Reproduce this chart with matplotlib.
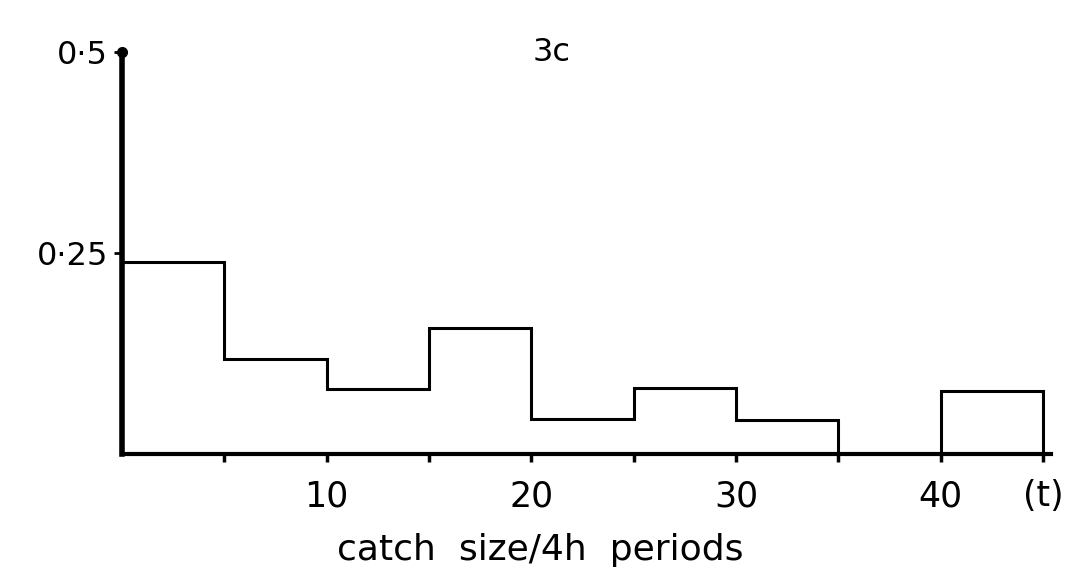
import matplotlib
matplotlib.use("Agg")
import matplotlib.pyplot as plt

plt.rcParams["font.family"] = "DejaVu Sans"

# catch size classes (4h periods) and relative frequencies
edges = [0, 5, 10, 15, 20, 25, 30, 35, 40, 45]
freq = [0.239, 0.118, 0.081, 0.157, 0.044, 0.082, 0.042, 0.0, 0.079]

xticks = [5, 10, 15, 20, 25, 30, 35, 40, 45]
xticklabels = ["", "10", "", "20", "", "30", "", "40", "(t)"]
yticks = [0.25, 0.5]
yticklabels = ["0\u00b725", "0\u00b75"]

fig = plt.figure(figsize=(10.83, 5.8), dpi=100)
ax = fig.add_axes([0.1127, 0.217, 0.858, 0.693])

ax.stairs(freq, edges, color="black", linewidth=2.2, baseline=0)

ax.set_xlim(0, 45.4)
ax.set_ylim(0, 0.5)
for s in ("top", "right"):
    ax.spines[s].set_visible(False)
ax.spines["left"].set_linewidth(4)
ax.spines["bottom"].set_linewidth(3)
ax.plot([0], [0.5], "o", color="black", ms=7, clip_on=False)

ax.set_xticks(xticks)
ax.set_xticklabels(xticklabels, fontsize=25)
ax.set_yticks(yticks)
ax.set_yticklabels(yticklabels, fontsize=23)
ax.tick_params(axis="x", direction="out", length=6, width=2.5, pad=12)
ax.tick_params(axis="y", direction="out", length=6, width=2, pad=4)

# x label placed by baseline, wide letter spacing as in the lettering
fig.text(0.499, 0.035, "catch  size/4h  periods", fontsize=26,
         ha="center", va="baseline")
ax.text(0.462, 1.0, "3c", transform=ax.transAxes, fontsize=23,
        ha="center", va="center")

fig.savefig("out.png", dpi=100)
